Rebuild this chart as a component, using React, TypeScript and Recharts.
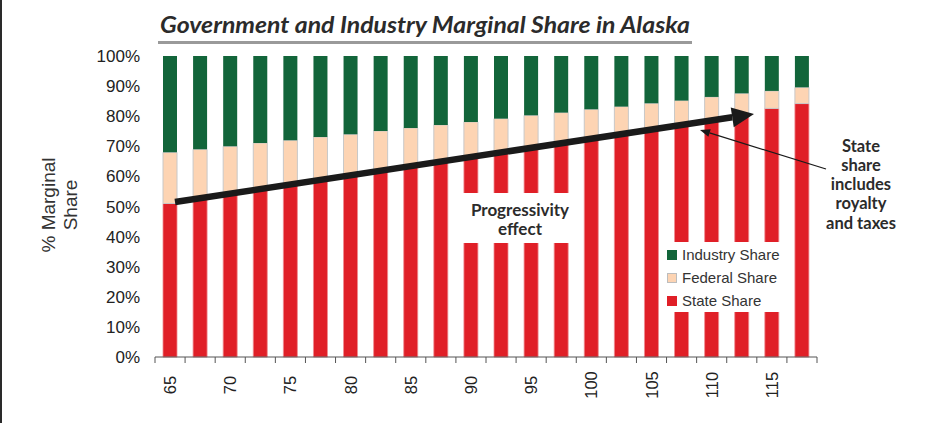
import React from "react";
import { BarChart, Bar, XAxis, YAxis, Legend } from "recharts";

const CATEGORIES = [
  "65", "67.5", "70", "72.5", "75", "77.5", "80", "82.5", "85", "87.5", "90",
  "92.5", "95", "97.5", "100", "102.5", "105", "107.5", "110", "112.5", "115", "117.5",
];

const STATE_SHARE = [
  51, 52.7, 54, 55.4, 57.1, 58.6, 60.2, 61.8, 63.4, 65, 66.6,
  68.2, 69.8, 71.4, 73, 74.5, 76.1, 77.7, 79.2, 80.8, 82.6, 84.2,
];

const FEDERAL_SHARE = [
  17, 16.3, 16, 15.7, 14.9, 14.5, 13.8, 13.3, 12.7, 12.1, 11.5,
  11, 10.5, 9.8, 9.3, 8.7, 8.2, 7.5, 7.2, 6.8, 5.8, 5.4,
];

const INDUSTRY_SHARE = [
  32, 31, 30, 28.9, 28, 26.9, 26, 24.9, 23.9, 22.9, 21.9,
  20.8, 19.7, 18.8, 17.7, 16.8, 15.7, 14.8, 13.6, 12.4, 11.6, 10.4,
];

const Y_TICKS = [0, 10, 20, 30, 40, 50, 60, 70, 80, 90, 100];

const COLORS = {
  industry: "#12653a",
  federal: "#fdd4b3",
  state: "#e01f27",
};

const W = 946;
const H = 423;
const PLOT_LEFT = 155;
const PLOT_RIGHT = 817;
const BAND = (PLOT_RIGHT - PLOT_LEFT) / CATEGORIES.length;

const data = CATEGORIES.map((c, i) => ({
  cat: c,
  state: STATE_SHARE[i],
  federal: FEDERAL_SHARE[i],
  industry: INDUSTRY_SHARE[i],
}));

function XTick(props: any) {
  const { x, y, payload, index } = props;
  const half = BAND / 2;
  const ly = y + 28;
  return (
    <g>
      <line x1={x - half} y1={y} x2={x - half} y2={y + 6} stroke="#555" />
      {index === CATEGORIES.length - 1 && (
        <line x1={x + half} y1={y} x2={x + half} y2={y + 6} stroke="#555" />
      )}
      {index % 2 === 0 && (
        <text
          x={x}
          y={ly}
          transform={`rotate(-90 ${x} ${ly})`}
          textAnchor="middle"
          dominantBaseline="central"
          fontSize={16.5}
          fontFamily="Liberation Sans, Arial, sans-serif"
          fill="#222"
        >
          {payload.value}
        </text>
      )}
    </g>
  );
}

const legendItems = [
  { label: "Industry Share", color: COLORS.industry, border: COLORS.industry },
  { label: "Federal Share", color: COLORS.federal, border: "#bdbdbd" },
  { label: "State Share", color: COLORS.state, border: COLORS.state },
];

function LegendBox() {
  return (
    <div
      style={{
        background: "#fff",
        width: 124,
        height: 70,
        boxSizing: "border-box",
        paddingLeft: 4,
        paddingTop: 1,
        fontFamily: "Liberation Sans, Arial, sans-serif",
        fontSize: 15,
        color: "#333",
      }}
    >
      {legendItems.map((it) => (
        <div key={it.label} style={{ display: "flex", alignItems: "center", height: 23 }}>
          <span
            style={{
              display: "inline-block",
              width: 10,
              height: 10,
              background: it.color,
              border: `1px solid ${it.border}`,
              boxSizing: "border-box",
              marginRight: 5,
            }}
          />
          {it.label}
        </div>
      ))}
    </div>
  );
}

// thick arrow geometry (annotation)
const AR = { x1: 175, y1: 202, x2: 754, y2: 114 };

function arrowHead(x1: number, y1: number, x2: number, y2: number, len: number, hw: number) {
  const d = Math.hypot(x2 - x1, y2 - y1);
  const ux = (x2 - x1) / d;
  const uy = (y2 - y1) / d;
  const bx = x2 - ux * len;
  const by = y2 - uy * len;
  const nx = -uy;
  const ny = ux;
  return {
    base: [bx, by],
    points: `${x2},${y2} ${bx + nx * hw},${by + ny * hw} ${bx - nx * hw},${by - ny * hw}`,
  };
}

export default function App() {
  const thick = arrowHead(AR.x1, AR.y1, AR.x2, AR.y2, 22, 10);
  const thin = arrowHead(826, 169, 700, 130, 10, 4);
  const bold = "Lato, 'Open Sans', sans-serif";
  return (
    <div style={{ position: "absolute", left: 0, top: 0, width: W, height: H, background: "#fff" }}>
      <BarChart
        width={W}
        height={H}
        data={data}
        margin={{ top: 56, right: W - PLOT_RIGHT, bottom: 0, left: 0 }}
        barSize={14}
      >
        <XAxis
          dataKey="cat"
          height={66}
          interval={0}
          tickLine={false}
          tickSize={0}
          tickMargin={0}
          axisLine={{ stroke: "#555" }}
          tick={<XTick />}
        />
        <YAxis
          type="number"
          domain={[0, 100]}
          ticks={Y_TICKS}
          width={PLOT_LEFT}
          axisLine={false}
          tickLine={false}
          tickSize={0}
          tickMargin={15}
          tickFormatter={(v) => `${v}%`}
          tick={{ fontSize: 17, fill: "#222", fontFamily: "Liberation Sans, Arial, sans-serif" }}
        />
        <Legend
          layout="vertical"
          align="center"
          verticalAlign="middle"
          content={() => <LegendBox />}
          wrapperStyle={{ left: 663, top: 242, width: 124, height: 70 }}
        />
        <Bar dataKey="state" name="State Share" stackId="a" fill={COLORS.state} stroke="#f08c90" strokeWidth={0.8} isAnimationActive={false} />
        <Bar dataKey="federal" name="Federal Share" stackId="a" fill={COLORS.federal} stroke="#c8c8c8" strokeWidth={1} isAnimationActive={false} />
        <Bar dataKey="industry" name="Industry Share" stackId="a" fill={COLORS.industry} isAnimationActive={false} />
      </BarChart>

      <svg
        width={W}
        height={H}
        style={{ position: "absolute", left: 0, top: 0, pointerEvents: "none" }}
      >
        <line x1={1} y1={0} x2={1} y2={H} stroke="#2a2a2a" strokeWidth={2} />

        <text
          x={160}
          y={33}
          textLength={530}
          lengthAdjust="spacingAndGlyphs"
          fontFamily={bold}
          fontWeight="bold"
          fontStyle="italic"
          fontSize={22}
          fill="#2b2b2b"
        >
          Government and Industry Marginal Share in Alaska
        </text>
        <rect x={158} y={41} width={534} height={3} fill="#9a9a9a" />

        <g transform="rotate(-90 62 205)" fontFamily="Liberation Sans, Arial, sans-serif" fontSize={19} fill="#333">
          <text x={62} y={198} textAnchor="middle">% Marginal</text>
          <text x={62} y={220} textAnchor="middle">Share</text>
        </g>

        <rect x={455} y={193} width={123} height={50} fill="#fff" />
        <g fontFamily={bold} fontWeight="bold" fontSize={17} fill="#2b2b2b" textAnchor="middle">
          <text x={520} y={216}>Progressivity</text>
          <text x={520} y={235}>effect</text>
        </g>

        <line x1={AR.x1} y1={AR.y1} x2={thick.base[0]} y2={thick.base[1]} stroke="#1a1a1a" strokeWidth={6.5} />
        <polygon points={thick.points} fill="#1a1a1a" />

        <line x1={826} y1={169} x2={thin.base[0]} y2={thin.base[1]} stroke="#1a1a1a" strokeWidth={1.3} />
        <polygon points={thin.points} fill="#1a1a1a" />

        <g fontFamily={bold} fontWeight="bold" fontSize={16.5} fill="#2b2b2b" textAnchor="middle">
          <text x={861} y={152}>State</text>
          <text x={861} y={171}>share</text>
          <text x={861} y={190}>includes</text>
          <text x={861} y={209}>royalty</text>
          <text x={861} y={229}>and taxes</text>
        </g>
      </svg>
    </div>
  );
}
